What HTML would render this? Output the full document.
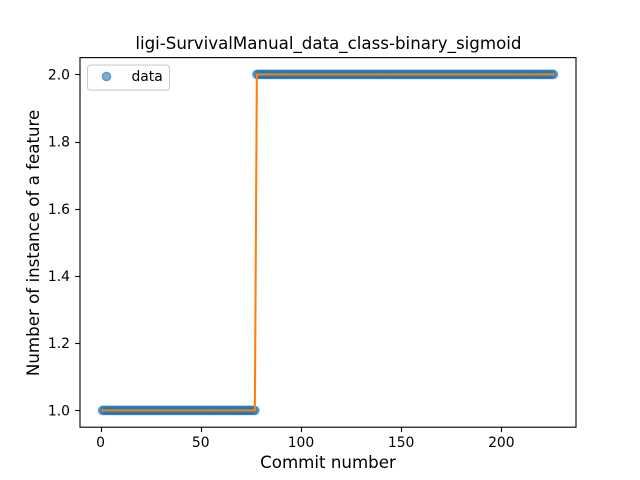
<!DOCTYPE html>
<html>
<head>
<meta charset="utf-8">
<style>
html,body{margin:0;padding:0;background:#fff;}
svg{display:block;}
text{font-family:"DejaVu Sans","Liberation Sans",sans-serif;fill:#000;}
</style>
</head>
<body>
<svg id="chart" width="640" height="480" viewBox="0 0 640 480" xmlns="http://www.w3.org/2000/svg">
<rect x="0" y="0" width="640" height="480" fill="#fff"/>
<rect x="80" y="57.6" width="496" height="369.6" fill="#fff"/>
<g id="marks"></g>
<g id="axes"></g>
<rect x="80" y="57.6" width="496" height="369.6" fill="none" stroke="#000" stroke-width="1.11"/>
<text x="328.4" y="49" font-size="16.67" text-anchor="middle">ligi-SurvivalManual_data_class-binary_sigmoid</text>
<text x="328" y="468" font-size="16.67" text-anchor="middle">Commit number</text>
<text x="0" y="0" font-size="16.67" text-anchor="middle" transform="translate(39 242.9) rotate(-90)">Number of instance of a feature</text>
<g>
<rect x="87.5" y="65.1" width="82" height="25" rx="2.8" ry="2.8" fill="#fff" fill-opacity="0.8" stroke="#ccc" stroke-width="1.11"/>
<circle cx="106.5" cy="76.5" r="4.17" fill="#1f77b4" fill-opacity="0.6" stroke="#1f77b4" stroke-opacity="0.6" stroke-width="1.39"/>
<text x="131.5" y="81" font-size="13.89">data</text>
</g>
</svg>
<script>
var xTickLabels = [0, 50, 100, 150, 200];
var yTickLabels = ["1.0", "1.2", "1.4", "1.6", "1.8", "2.0"];
var dataValues = [
1,1,1,1,1,1,1,1,1,1,
1,1,1,1,1,1,1,1,1,1,
1,1,1,1,1,1,1,1,1,1,
1,1,1,1,1,1,1,1,1,1,
1,1,1,1,1,1,1,1,1,1,
1,1,1,1,1,1,1,1,1,1,
1,1,1,1,1,1,1,1,1,1,
1,1,1,1,1,1,1,2,2,2,
2,2,2,2,2,2,2,2,2,2,
2,2,2,2,2,2,2,2,2,2,
2,2,2,2,2,2,2,2,2,2,
2,2,2,2,2,2,2,2,2,2,
2,2,2,2,2,2,2,2,2,2,
2,2,2,2,2,2,2,2,2,2,
2,2,2,2,2,2,2,2,2,2,
2,2,2,2,2,2,2,2,2,2,
2,2,2,2,2,2,2,2,2,2,
2,2,2,2,2,2,2,2,2,2,
2,2,2,2,2,2,2,2,2,2,
2,2,2,2,2,2,2,2,2,2,
2,2,2,2,2,2,2,2,2,2,
2,2,2,2,2,2,2,2,2,2,
2,2,2,2,2,2
];
var fitValues = [
1,1,1,1,1,1,1,1,1,1,
1,1,1,1,1,1,1,1,1,1,
1,1,1,1,1,1,1,1,1,1,
1,1,1,1,1,1,1,1,1,1,
1,1,1,1,1,1,1,1,1,1,
1,1,1,1,1,1,1,1,1,1,
1,1,1,1,1,1,1,1,1,1,
1,1,1,1,1,1,1,2,2,2,
2,2,2,2,2,2,2,2,2,2,
2,2,2,2,2,2,2,2,2,2,
2,2,2,2,2,2,2,2,2,2,
2,2,2,2,2,2,2,2,2,2,
2,2,2,2,2,2,2,2,2,2,
2,2,2,2,2,2,2,2,2,2,
2,2,2,2,2,2,2,2,2,2,
2,2,2,2,2,2,2,2,2,2,
2,2,2,2,2,2,2,2,2,2,
2,2,2,2,2,2,2,2,2,2,
2,2,2,2,2,2,2,2,2,2,
2,2,2,2,2,2,2,2,2,2,
2,2,2,2,2,2,2,2,2,2,
2,2,2,2,2,2,2,2,2,2,
2,2,2,2,2,2
];

var NS = "http://www.w3.org/2000/svg";
var plotLeft = 80, plotRight = 576, plotTop = 57.6, plotBottom = 427.2;
var firstCommit = 1;
var lastCommit = firstCommit + dataValues.length - 1;
var xMargin = (lastCommit - firstCommit) * 0.05;
var yMin = Math.min.apply(null, dataValues), yMax = Math.max.apply(null, dataValues);
var yMargin = (yMax - yMin) * 0.05;

function xScale(v) {
  return plotLeft + (v - (firstCommit - xMargin)) / ((lastCommit - firstCommit) + 2 * xMargin) * (plotRight - plotLeft);
}
function yScale(v) {
  return plotBottom - (v - (yMin - yMargin)) / ((yMax - yMin) + 2 * yMargin) * (plotBottom - plotTop);
}
function make(tag, attrs, parent) {
  var el = document.createElementNS(NS, tag);
  for (var k in attrs) el.setAttribute(k, attrs[k]);
  parent.appendChild(el);
  return el;
}

var marks = document.getElementById("marks");
dataValues.forEach(function (v, i) {
  var c = make("circle", {
    cx: xScale(firstCommit + i).toFixed(2), cy: yScale(v).toFixed(2), r: 4.17,
    fill: "#1f77b4", "fill-opacity": 0.6, stroke: "#1f77b4", "stroke-opacity": 0.6, "stroke-width": 1.39
  }, marks);
  
  
});
var fitPoints = fitValues.map(function (v, i) {
  return xScale(firstCommit + i).toFixed(2) + "," + yScale(v).toFixed(2);
}).join(" ");
var fitLine = make("polyline", {
  points: fitPoints, fill: "none", stroke: "#ff7f0e", "stroke-width": 2.08,
  "stroke-linejoin": "round", "stroke-linecap": "square"
}, marks);



var axes = document.getElementById("axes");
xTickLabels.forEach(function (t) {
  var x = Math.round(xScale(t)) + 0.5;
  var tick = make("line", { x1: x, x2: x, y1: plotBottom, y2: plotBottom + 4.86, stroke: "#000", "stroke-width": 1.11 }, axes);
  
  
  var label = make("text", { x: xScale(t), y: 447, "font-size": 13.89, "text-anchor": "middle" }, axes);
  
  
  label.textContent = t;
});
yTickLabels.forEach(function (t) {
  var y = Math.round(yScale(parseFloat(t))) + 0.5;
  var tick = make("line", { x1: plotLeft - 4.86, x2: plotLeft, y1: y, y2: y, stroke: "#000", "stroke-width": 1.11 }, axes);
  
  
  var label = make("text", { x: 70, y: yScale(parseFloat(t)) + 5, "font-size": 13.89, "text-anchor": "end" }, axes);
  
  
  label.textContent = t;
});
</script>
</body>
</html>
